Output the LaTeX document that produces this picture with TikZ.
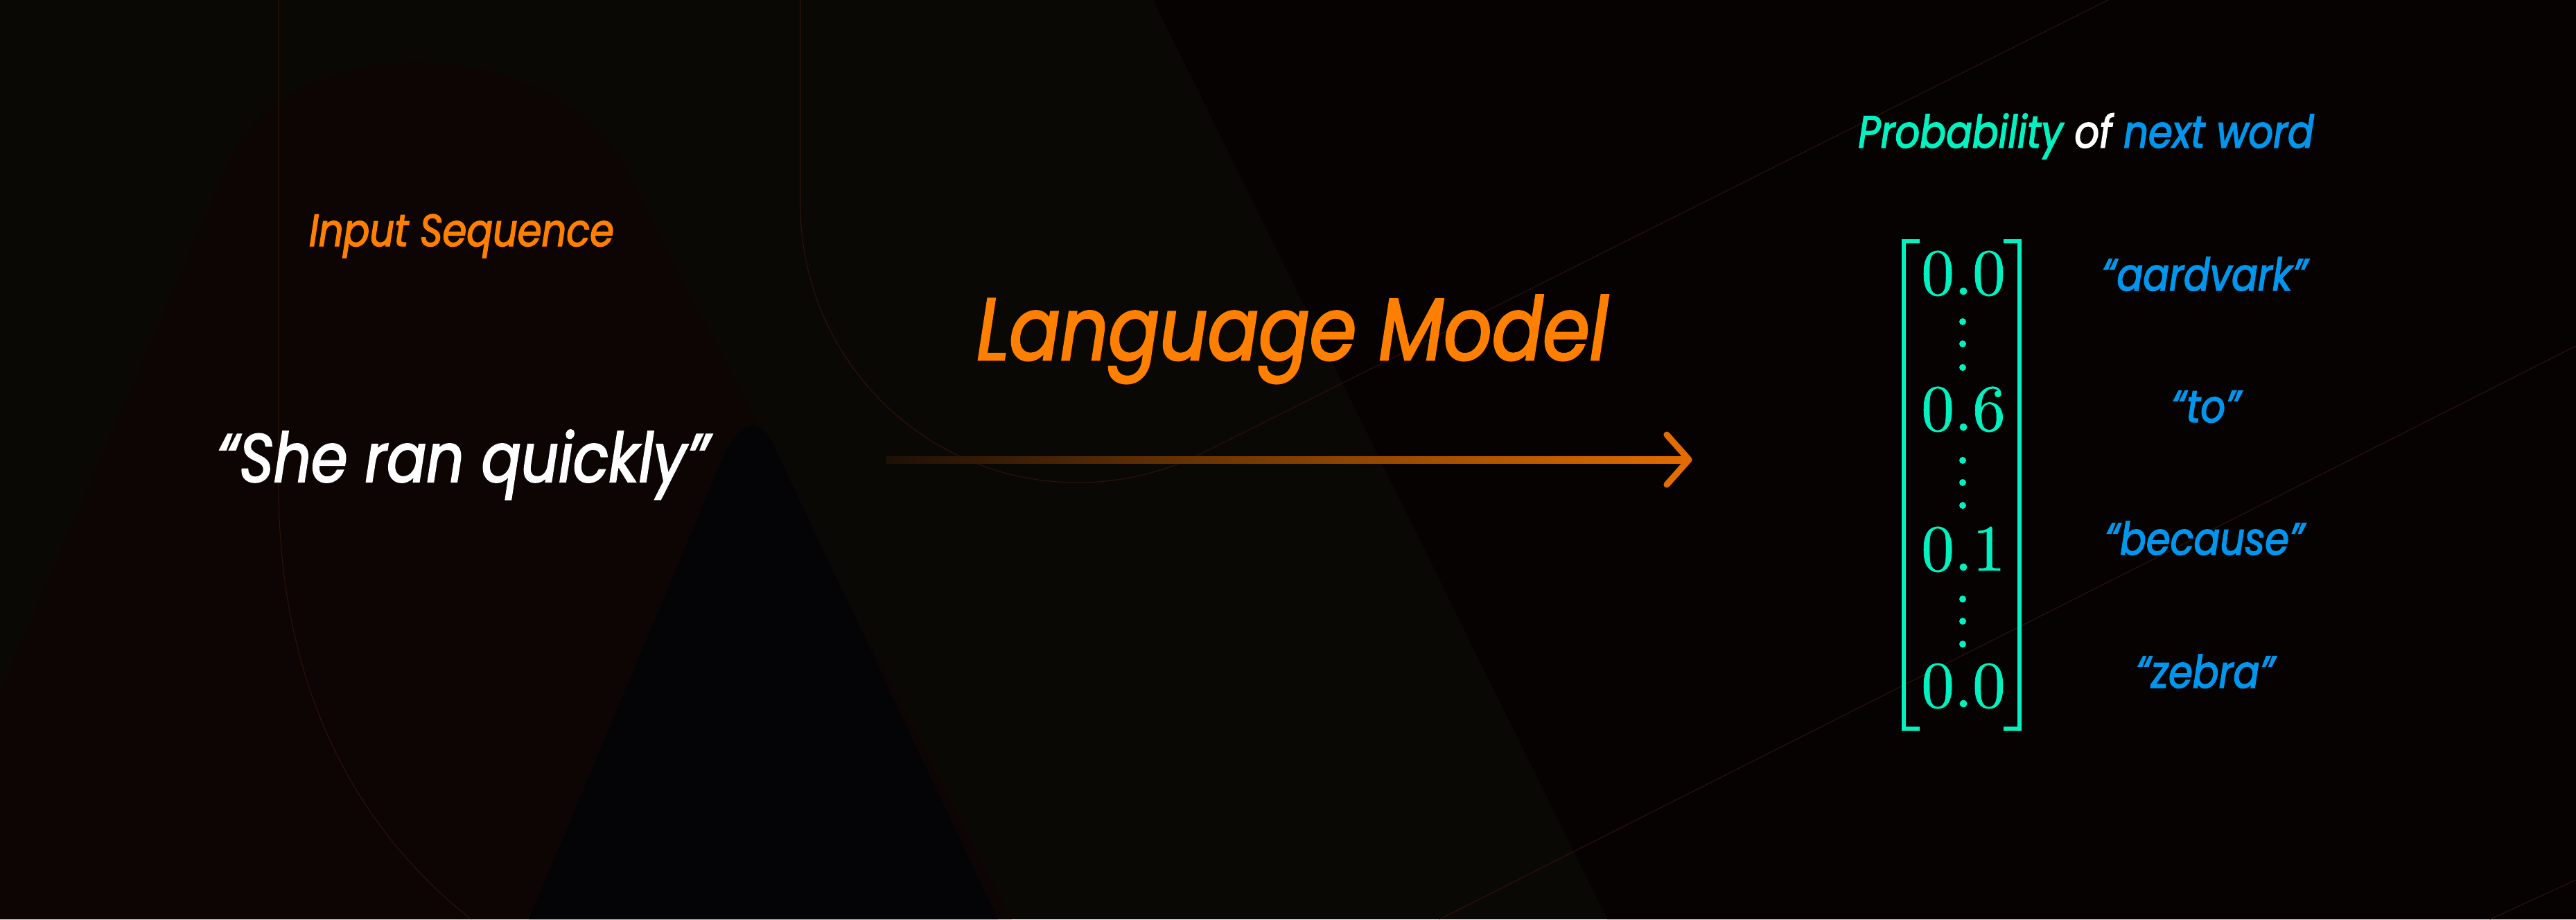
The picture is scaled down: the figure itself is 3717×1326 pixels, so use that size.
\documentclass[tikz,border=0pt]{standalone}
\usepackage[no-math]{fontspec}
\setmainfont{Poppins}[ItalicFeatures={FakeStretch=0.86, FakeBold=2.2}]
\newfontfamily\lmfont{lmroman10-regular.otf}[FakeBold=0.8]
\usetikzlibrary{calc}
\definecolor{bgA}{HTML}{0A0805}
\definecolor{bgRed}{HTML}{0C0504}
\definecolor{bgRight}{HTML}{060202}
\definecolor{bgBlack}{HTML}{040406}
\definecolor{thinln}{HTML}{2C1309}
\definecolor{orng}{HTML}{FF7F00}
\definecolor{grn}{HTML}{00F2C0}
\definecolor{blu}{HTML}{0096EE}
\definecolor{arrdark}{HTML}{1E1006}
\definecolor{arrlight}{HTML}{E26C00}
\tikzset{
  txt/.style={anchor=base, inner sep=0pt},
  thin line/.style={draw=thinln, line width=0.6pt},
  num/.style={anchor=base, inner sep=0pt, text=grn, font=\lmfont\fontsize{54}{60}\selectfont},
  word/.style={anchor=base, inner sep=0pt, text=blu, font=\fontsize{37}{44}\selectfont\itshape},
  vdot/.style={fill=grn, draw=none},
  brk/.style={draw=grn, line width=3.4pt},
}
\begin{document}
\begin{tikzpicture}[x=0.02cm, y=-0.02cm]
% background
\fill[bgA] (0,0) rectangle (3717,1326);
\useasboundingbox (0,0) rectangle (3717,1326);
\fill[bgRight] (1664,0) -- (3717,0) -- (3717,1326) -- (2319,1326) -- cycle;
\fill[bgRed] (-142,1326) -- (330,235) .. controls (417,35) and (801,45) .. (904,245) -- (1460,1326) -- cycle;
\fill[bgBlack] (763,1326) -- (1043,660) .. controls (1070,600) and (1100,600) .. (1120,650) -- (1440,1326) -- cycle;
% thin background lines
\draw[thin line] (402,0) -- (402,700) .. controls (402,1000) and (520,1200) .. (680,1326);
\draw[thin line] (1155,0) -- (1155,296) .. controls (1155,517) and (1334,696) .. (1555,696)
   .. controls (1617,696) and (1678,682) .. (1734,654) -- (3042,0);
\draw[thin line] (3717,499) -- (2077,1326);
\draw[thin line] (3717,1269) -- (3593,1326);

% texts
\node[txt, text=orng, font=\fontsize{37}{44}\selectfont\itshape] (inseq) at (666,355) {Input Sequence};
\node[txt, text=white, font=\fontsize{56}{64}\selectfont\itshape] (sentence) at (668,695) {“She ran quickly”};
\node[txt, text=orng, font=\fontsize{72}{80}\selectfont\itshape] (lm) at (1865,519) {Language Model};
\node[txt, font=\fontsize{37}{44}\selectfont\itshape] (prob) at (3010,213)
  {\textcolor{grn}{Probability} \textcolor{white}{of} \textcolor{blu}{next word}};

% arrow
\coordinate (arrS) at (1279,663);
\coordinate (arrE) at (2437,663);
\shade[left color=arrdark, right color=arrlight] ($(arrS)+(0,-5)$) rectangle ($(arrE)+(-3,5)$);
\draw[arrlight, line width=5.2pt, line cap=round, line join=round]
  ($(arrE)+(-32,-36)$) -- (arrE) -- ($(arrE)+(-32,36)$);

% vector
\node[num] (n1) at (2833,425) {0.0};
\node[num] (n2) at (2833,621) {0.6};
\node[num] (n3) at (2833,823) {0.1};
\node[num] (n4) at (2833,1020) {0.0};
\foreach \y in {464,496,530,664,696,729,864,896,929}
  \fill[vdot] (2832,\y) circle (5);
\draw[brk] (2770,348) -- (2747,348) -- (2747,1051) -- (2770,1051);
\draw[brk] (2891,348) -- (2914,348) -- (2914,1051) -- (2891,1051);

% words
\node[word] (w1) at (3181,419) {“aardvark”};
\node[word] (w2) at (3183,609) {“to”};
\node[word] (w3) at (3181,800) {“because”};
\node[word] (w4) at (3182,992) {“zebra”};
\end{tikzpicture}
\end{document}
